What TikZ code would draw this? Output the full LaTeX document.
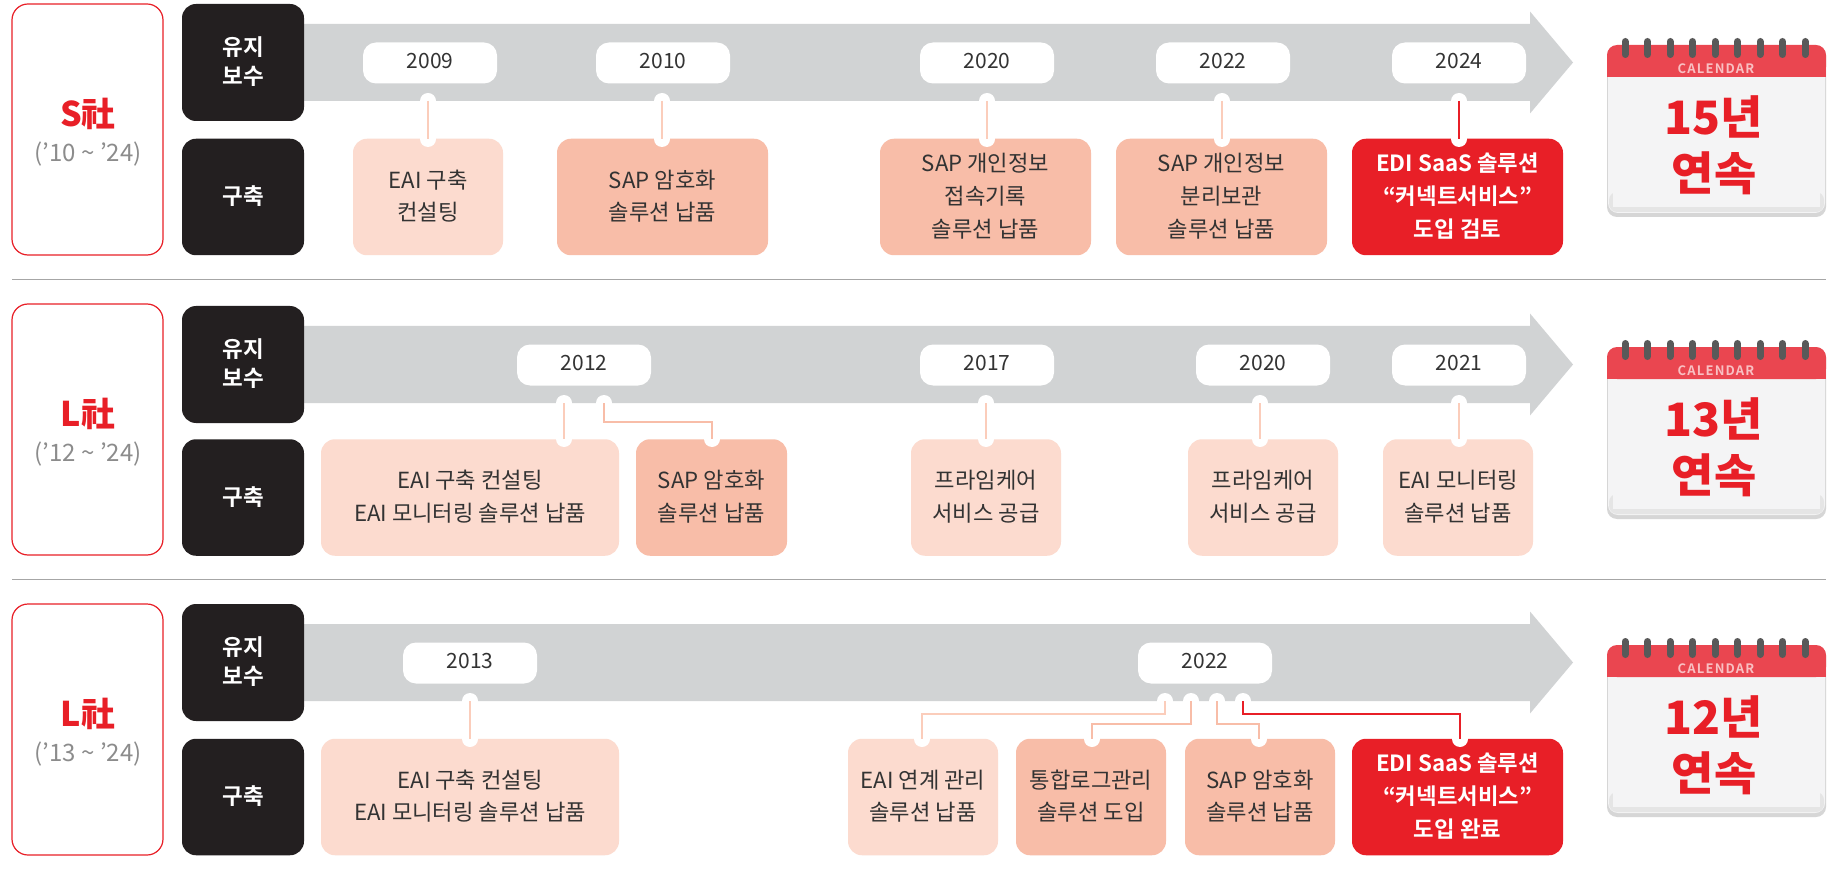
\documentclass[tikz,border=0pt]{standalone}
\usepackage{fontspec}
\setmainfont{Noto Sans CJK KR}[BoldFont={Noto Sans CJK KR Bold}]
\newfontfamily\blackkr{Noto Sans CJK KR Black}
\definecolor{arrowgray}{HTML}{D1D3D4}
\definecolor{inkblack}{HTML}{231F20}
\definecolor{brandred}{HTML}{E81F27}
\definecolor{lightpeach}{HTML}{FCDBCF}
\definecolor{midpeach}{HTML}{F8BDA8}
\definecolor{linelight}{HTML}{FBCDBB}
\definecolor{bodyink}{HTML}{333333}
\definecolor{pagegray}{HTML}{F4F4F5}
\definecolor{headred}{HTML}{EA4650}
\newcommand{\shifted}[2]{\raisebox{-#1}[\height][\depth]{\begin{tabular}{@{}c@{}}#2\end{tabular}}}
\tikzset{
  x=1pt,y=-1pt,
  itembase/.style={rounded corners=14pt,inner sep=0pt,font=\fontsize{22.2}{32.7}\selectfont,text=bodyink},
  lightbox/.style={itembase,fill=lightpeach},
  midbox/.style={itembase,fill=midpeach},
  redbox/.style={itembase,fill=brandred,text=white,font=\fontsize{22.3}{32.7}\selectfont\bfseries},
  blackbox/.style={rounded corners=14pt,fill=inkblack,text=white,inner sep=0pt,minimum width=122pt,font=\fontsize{22.5}{29}\selectfont\bfseries},
  companybox/.style={rounded corners=16pt,draw=brandred,line width=1.2pt,fill=white,inner sep=0pt,minimum width=151pt,minimum height=251pt},
  yearpill/.style={rounded corners=13pt,fill=white,inner sep=0pt,minimum width=134pt,minimum height=41pt,font=\fontsize{21}{24}\selectfont,text=bodyink},
  notch/.style={fill=white,draw=none},
  linklight/.style={draw=linelight,line width=2.4pt},
  linkmid/.style={draw=midpeach,line width=2.4pt},
  linkred/.style={draw=brandred,line width=2.4pt},
}
\newcommand{\itemnode}[6]{\node[#5,minimum width={#3-#2},minimum height=116.5pt] (#1) at ({(#2+#3)/2},#4) {\shifted{1pt}{#6}};}
\newcommand{\pillnode}[3]{\node[yearpill] (#1) at (#2,#3) {\shifted{1pt}{\strut\smash{}#1}};}
\newcommand{\notchat}[3]{\coordinate (#1) at (#2,#3); \fill[notch] (#1) circle (8);}
\newcommand{\calpage}[4]{%
  \begin{scope}[yshift=#1]
    \fill[rounded corners=10pt,fill=black!16] (1607,46) rectangle (1826,217);
    \fill[rounded corners=10pt,fill=pagegray] (1608,60) rectangle (1825,213);
    \fill[rounded corners=8pt,fill=black!10] (1609,192) rectangle (1824,212);
    \fill[fill=pagegray] (1613,70) rectangle (1820,207);
    \fill[rounded corners=10pt,fill=headred] (1607,45) -- (1826,45) -- (1826,77) -- (1607,77) -- cycle;
    \fill[headred] (1607,65) rectangle (1826,77);
    \foreach \i in {0,...,8} {
      \draw[line cap=round,line width=7pt,draw=black!65] ({1625+22.5*\i},41.5) -- ({1625+22.5*\i},54.5);
    }
    \node[inner sep=0pt,text=white!72!brandred,font=\fontsize{13}{13}\selectfont\bfseries\addfontfeature{LetterSpace=9}] (#2c) at (1716,69) {CALENDAR};
    \node[inner sep=0pt,text=brandred,font=\fontsize{46}{46}\blackkr\selectfont] (#2a) at (1714,117) {#3};
    \node[inner sep=0pt,text=brandred,font=\fontsize{46}{46}\blackkr\selectfont] (#2b) at (1714,173) {#4};
  \end{scope}}
\newcommand{\timearrow}[1]{\fill[arrowgray] (290,#1-38.5) -- (1530,#1-38.5) -- (1530,#1-51) -- (1573,#1) -- (1530,#1+51) -- (1530,#1+38.5) -- (290,#1+38.5) -- cycle;}
\newcommand{\sidepair}[3]{%
  \node[blackbox,minimum height=117pt] (#1m) at (243,#2) {\shifted{2pt}{유지\\보수}};
  \node[blackbox,minimum height=116.5pt] (#1b) at (243,#3) {\shifted{2pt}{구축}};}
\newcommand{\company}[4]{%
  \node[companybox] (#1) at (87.5,#2) {};
  \node[inner sep=0pt,text=brandred,font=\fontsize{34}{36}\blackkr\selectfont] (#1n) at (88,#2-16) {#3};
  \node[inner sep=0pt,text=black!45,font=\fontsize{24}{26}\selectfont] (#1d) at (88,#2+25) {#4};}
\begin{document}
\begin{tikzpicture}
\useasboundingbox (0,0) rectangle (1830,874);
\fill[white] (0,0) rectangle (1830,874);
\timearrow{62.5}
\timearrow{364.5}
\timearrow{662.5}
\draw[black!35,line width=1pt] (12,280) -- (1826,280);
\draw[black!35,line width=1pt] (12,579) -- (1826,579);
% row 1
\company{co1}{129.5}{S社}{(’10 \textasciitilde{} ’24)}
\sidepair{s1}{62.5}{197}
\node[yearpill] (p1a) at (430,63) {\shifted{1pt}{2009}};
\node[yearpill] (p1b) at (663,63) {\shifted{1pt}{2010}};
\node[yearpill] (p1c) at (987,63) {\shifted{1pt}{2020}};
\node[yearpill] (p1d) at (1223,63) {\shifted{1pt}{2022}};
\node[yearpill] (p1e) at (1459,63) {\shifted{1pt}{2024}};
\itemnode{i1a}{353}{503}{197}{lightbox}{EAI 구축\\컨설팅}
\itemnode{i1b}{557}{768}{197}{midbox}{SAP 암호화\\솔루션 납품}
\itemnode{i1c}{880}{1091}{197}{midbox}{SAP 개인정보\\접속기록\\솔루션 납품}
\itemnode{i1d}{1116}{1327}{197}{midbox}{SAP 개인정보\\분리보관\\솔루션 납품}
\itemnode{i1e}{1352}{1563}{197}{redbox}{EDI SaaS 솔루션\\“커넥트서비스”\\도입 검토}
\foreach \n/\x/\st in {a/428/linklight,b/662/linklight,c/987/linklight,d/1222/linklight,e/1459/linkred}{
  \notchat{n1\n}{\x}{101}
  \notchat{m1\n}{\x}{139}
  \draw[\st] (n1\n) -- (m1\n);
}
\calpage{0pt}{cal1}{15년}{연속}
% row 2
\company{co2}{429.5}{L社}{(’12 \textasciitilde{} ’24)}
\sidepair{s2}{364.5}{497.5}
\node[yearpill] (p2a) at (584,365) {\shifted{1pt}{2012}};
\node[yearpill] (p2b) at (987,365) {\shifted{1pt}{2017}};
\node[yearpill] (p2c) at (1263,365) {\shifted{1pt}{2020}};
\node[yearpill] (p2d) at (1459,365) {\shifted{1pt}{2021}};
\itemnode{i2a}{321}{619}{497.5}{lightbox}{EAI 구축 컨설팅\\EAI 모니터링 솔루션 납품}
\itemnode{i2b}{636}{787}{497.5}{midbox}{SAP 암호화\\솔루션 납품}
\itemnode{i2c}{911}{1061}{497.5}{lightbox}{프라임케어\\서비스 공급}
\itemnode{i2d}{1188}{1338}{497.5}{lightbox}{프라임케어\\서비스 공급}
\itemnode{i2e}{1383}{1533}{497.5}{lightbox}{EAI 모니터링\\솔루션 납품}
\foreach \n/\x in {a/564,c/986,d/1260,e/1459}{
  \notchat{n2\n}{\x}{403}
  \notchat{m2\n}{\x}{439}
  \draw[linklight] (n2\n) -- (m2\n);
}
\notchat{n2b}{604}{403}
\notchat{m2b}{712}{439}
\draw[linkmid] (n2b) -- (604,422) -- (712,422) -- (m2b);
\calpage{-302pt}{cal2}{13년}{연속}
% row 3
\company{co3}{729.5}{L社}{(’13 \textasciitilde{} ’24)}
\sidepair{s3}{662.5}{797}
\node[yearpill] (p3a) at (470,663) {\shifted{1pt}{2013}};
\node[yearpill] (p3b) at (1205,663) {\shifted{1pt}{2022}};
\itemnode{i3a}{321}{619}{797}{lightbox}{EAI 구축 컨설팅\\EAI 모니터링 솔루션 납품}
\itemnode{i3b}{848}{998}{797}{lightbox}{EAI 연계 관리\\솔루션 납품}
\itemnode{i3c}{1016}{1166}{797}{midbox}{통합로그관리\\솔루션 도입}
\itemnode{i3d}{1185}{1335}{797}{midbox}{SAP 암호화\\솔루션 납품}
\itemnode{i3e}{1352}{1563}{797}{redbox}{EDI SaaS 솔루션\\“커넥트서비스”\\도입 완료}
\notchat{n3a}{470}{701}
\notchat{m3a}{470}{739}
\draw[linklight] (n3a) -- (m3a);
\notchat{n3b}{1165}{701}
\notchat{m3b}{922}{739}
\draw[linklight] (n3b) -- (1165,714) -- (922,714) -- (m3b);
\notchat{n3c}{1191}{701}
\notchat{m3c}{1092}{739}
\draw[linkmid] (n3c) -- (1191,724) -- (1092,724) -- (m3c);
\notchat{n3d}{1217}{701}
\notchat{m3d}{1259}{739}
\draw[linkmid] (n3d) -- (1217,724) -- (1259,724) -- (m3d);
\notchat{n3e}{1243}{701}
\notchat{m3e}{1460}{739}
\draw[linkred] (n3e) -- (1243,714) -- (1460,714) -- (m3e);
\calpage{-600pt}{cal3}{12년}{연속}
\end{tikzpicture}
\end{document}
